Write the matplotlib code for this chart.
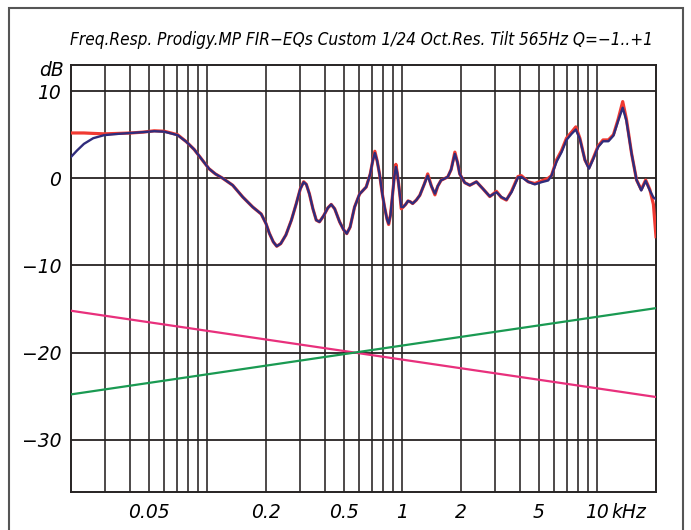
import matplotlib
matplotlib.use("Agg")
import matplotlib.pyplot as plt
from matplotlib.patches import Rectangle
import matplotlib.transforms as mtransforms

# ---------------- data ----------------
freq_khz = [0.020, 0.0215, 0.0233, 0.026, 0.0296, 0.035, 0.0406, 0.047, 0.0534, 0.0601,
            0.0704, 0.078, 0.0857, 0.095, 0.102, 0.110, 0.120, 0.135, 0.152, 0.171,
            0.189, 0.200, 0.208, 0.218, 0.227, 0.238, 0.253, 0.270, 0.286, 0.300,
            0.312, 0.322, 0.334, 0.348, 0.362, 0.376, 0.395, 0.415, 0.432, 0.450,
            0.477, 0.500, 0.519, 0.540, 0.569, 0.604, 0.653, 0.685, 0.705, 0.723,
            0.743, 0.764, 0.790, 0.811, 0.835, 0.851, 0.870, 0.889, 0.910, 0.927,
            0.942, 0.957, 0.975, 0.988, 1.01, 1.04, 1.07, 1.10, 1.13, 1.18,
            1.23, 1.30, 1.35, 1.41, 1.47, 1.52, 1.58, 1.71, 1.78, 1.86,
            1.92, 1.97, 2.09, 2.22, 2.40, 2.59, 2.81, 3.04, 3.22, 3.42,
            3.63, 3.92, 4.08, 4.42, 4.78, 5.17, 5.60, 5.82, 6.18, 6.56,
            6.95, 7.38, 7.76, 8.14, 8.64, 9.06, 9.53, 10.1, 10.7, 11.4,
            12.1, 12.8, 13.5, 14.1, 15.0, 15.9, 16.8, 17.7, 18.6, 19.4,
            20.0]

eq_navy_db = [2.45, 3.2, 3.95, 4.6, 4.95, 5.1, 5.2, 5.3, 5.4, 5.35,
              4.95, 4.2, 3.3, 2.0, 1.1, 0.5, 0.0, -0.8, -2.15, -3.3,
              -4.1, -5.2, -6.3, -7.3, -7.8, -7.5, -6.5, -4.8, -2.9, -1.2,
              -0.45, -0.7, -1.8, -3.5, -4.8, -5.0, -4.3, -3.4, -3.0, -3.5,
              -5.0, -5.9, -6.35, -5.6, -3.3, -1.8, -1.0, 0.5, 2.0, 2.9,
              2.0, 0.5, -1.8, -3.3, -4.7, -5.2, -4.2, -2.15, 0.2, 1.3,
              0.6, -0.6, -2.2, -3.3, -3.3, -3.0, -2.6, -2.7, -2.9, -2.5,
              -1.95, -0.6, 0.3, -0.9, -1.76, -0.9, -0.23, 0.15, 1.0, 2.8,
              1.8, 0.5, -0.5, -0.8, -0.4, -1.2, -2.07, -1.6, -2.15, -2.45,
              -1.6, 0.1, 0.15, -0.4, -0.7, -0.45, -0.25, 0.3, 1.9, 3.0,
              4.4, 5.1, 5.6, 4.5, 2.1, 1.1, 2.2, 3.6, 4.25, 4.25,
              4.9, 6.6, 8.1, 6.6, 2.8, -0.2, -1.4, -0.3, -1.4, -2.2,
              -2.4]

eq_red_db = [5.2, 5.2, 5.2, 5.15, 5.1, 5.15, 5.2, 5.3, 5.45, 5.4,
             5.0, 4.2, 3.3, 2.0, 1.1, 0.5, 0.0, -0.8, -2.15, -3.3,
             -4.1, -5.2, -6.3, -7.3, -7.8, -7.5, -6.5, -4.8, -2.9, -1.2,
             -0.4, -0.7, -1.8, -3.5, -4.8, -5.0, -4.3, -3.4, -3.0, -3.5,
             -5.0, -5.9, -6.35, -5.6, -3.3, -1.8, -1.0, 0.5, 2.0, 3.1,
             2.0, 0.5, -1.8, -3.3, -4.7, -5.3, -4.2, -2.15, 0.2, 1.6,
             0.6, -0.6, -2.2, -3.5, -3.3, -3.0, -2.6, -2.7, -2.9, -2.5,
             -1.95, -0.6, 0.5, -0.9, -1.9, -0.9, -0.23, 0.15, 1.0, 3.0,
             1.8, 0.5, -0.5, -0.8, -0.4, -1.2, -2.1, -1.5, -2.2, -2.5,
             -1.5, 0.2, 0.3, -0.4, -0.6, -0.3, 0.0, 0.3, 2.1, 3.2,
             4.6, 5.3, 5.9, 4.6, 2.1, 1.2, 2.3, 3.7, 4.4, 4.4,
             5.0, 6.8, 8.8, 6.8, 2.8, -0.2, -1.3, -0.2, -1.3, -3.0,
             -6.7]

tilt_freq_khz = [0.020, 20.0]
tilt_down_db = [-15.2, -25.1]
tilt_up_db = [-24.8, -14.9]

grid_x_khz = [0.03, 0.04, 0.05, 0.06, 0.07, 0.08, 0.09, 0.1,
              0.2, 0.3, 0.4, 0.5, 0.6, 0.7, 0.8, 0.9, 1.0,
              2, 3, 4, 5, 6, 7, 8, 9, 10]
xtick_vals = [0.05, 0.2, 0.5, 1, 2, 5, 10]
xtick_labels = ["0.05", "0.2", "0.5", "1", "2", "5", "10"]
ytick_vals = [10, 0, -10, -20, -30]
ytick_labels = ["10", "0", "\u221210", "\u221220", "\u221230"]

title = "Freq.Resp. Prodigy.MP FIR\u2212EQs Custom 1/24 Oct.Res. Tilt 565Hz Q=\u22121..+1"

# ---------------- figure ----------------
plt.rcParams['font.family'] = ['DejaVu Sans']
fig = plt.figure(figsize=(6.91, 5.30), dpi=100)
ax = fig.add_axes([71/691, 1-492/530, (656-71)/691, (492-65)/530])

grid_col = "#262222"
for gx in grid_x_khz:
    ax.axvline(gx, color=grid_col, lw=1.15, zorder=1)
for gy in ytick_vals:
    ax.axhline(gy, color=grid_col, lw=1.3, zorder=1)

ax.plot(tilt_freq_khz, tilt_down_db, color="#e8307c", lw=1.6, zorder=3)
ax.plot(tilt_freq_khz, tilt_up_db, color="#1a9a52", lw=1.6, zorder=3)
ax.plot(freq_khz, eq_red_db, color="#f03a32", lw=2.3, zorder=4, solid_joinstyle='round')
ax.plot(freq_khz, eq_navy_db, color="#2f2c7c", lw=1.7, zorder=5, solid_joinstyle='round')

ax.set_xscale('log')
ax.set_xlim(0.020, 20.0)
ax.set_ylim(-36, 13)
ax.minorticks_off()
ax.set_xticks(xtick_vals)
ax.set_xticklabels(xtick_labels, fontsize=13.5, style='italic')
ax.set_yticks(ytick_vals)
ax.set_yticklabels(ytick_labels, fontsize=13.5, style='italic')
ax.tick_params(axis='x', length=0, pad=8)
ax.tick_params(axis='y', length=0, pad=7)
for s in ax.spines.values():
    s.set_color(grid_col)
    s.set_linewidth(1.4)

trans = mtransforms.blended_transform_factory(ax.transData, ax.transAxes)
ax.annotate("kHz", xy=(10, 0), xycoords=trans, xytext=(10, -8),
            textcoords='offset points', ha='left', va='top',
            fontsize=13.5, style='italic')
ax.text(-0.012, 0.988, "dB", transform=ax.transAxes, ha='right', va='center',
        fontsize=13.5, style='italic')

fig.text(0.5 * (70 + 652) / 691, 1 - 40/530, title, ha='center', va='center',
         fontsize=12.3, style='italic', fontstretch='condensed')

# outer frame
fig.patches.append(Rectangle((9/691, -0.05), (683-9)/691, 1.05 - 8/530,
                             transform=fig.transFigure, fill=False,
                             edgecolor="#555555", lw=1.5))

fig.savefig("out.png", dpi=100)
